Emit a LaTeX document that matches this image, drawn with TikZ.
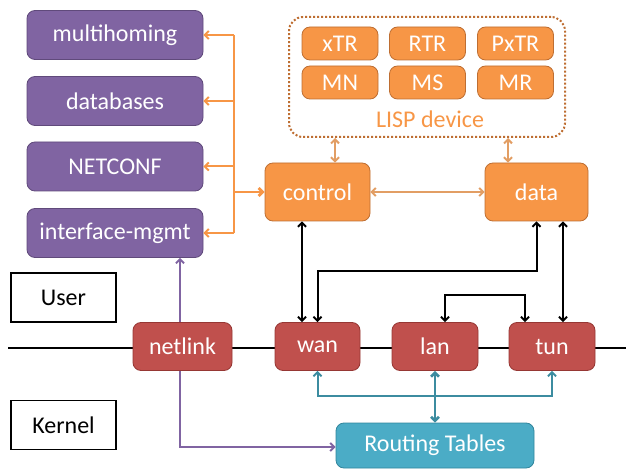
\documentclass[tikz,border=0pt]{standalone}
\usepackage{fontspec}
\setmainfont{Carlito}
\usetikzlibrary{arrows.meta,backgrounds}
\definecolor{cpurple}{RGB}{128,100,162}
\definecolor{cpurpleD}{RGB}{96,74,123}
\definecolor{corange}{RGB}{247,150,70}
\definecolor{corangeD}{RGB}{190,110,50}
\definecolor{clisp}{RGB}{226,158,100}
\definecolor{cred}{RGB}{192,80,77}
\definecolor{credD}{RGB}{150,55,52}
\definecolor{cteal}{RGB}{75,172,198}
\definecolor{ctealD}{RGB}{49,133,156}
\definecolor{ctealL}{RGB}{60,140,160}
\tikzset{
  box/.style={rounded corners=8pt, text=white, font=\fontsize{24}{26}\selectfont, inner sep=0pt, line width=0.8pt},
  pbox/.style={box, fill=cpurple, draw=cpurpleD, minimum width=176pt, minimum height=49pt},
  obox/.style={box, fill=corange, draw=corangeD},
  ibox/.style={box, fill=corange, draw=corangeD, minimum width=76pt, minimum height=33pt},
  rbox/.style={box, fill=cred, draw=credD, minimum height=48pt},
  tbox/.style={box, fill=cteal, draw=ctealD},
  lbox/.style={draw=black, line width=1.2pt, minimum width=105pt, minimum height=49pt, font=\fontsize{24}{26}\selectfont, inner sep=0pt},
  conn/.style={line width=2pt, arrows={Straight Barb[length=4pt,width=8pt]-Straight Barb[length=4pt,width=8pt]}},
  oline/.style={line width=2pt, draw=corange},
}
\begin{document}
\begin{tikzpicture}[x=1pt,y=-1pt]
\useasboundingbox (0,0) rectangle (626,470);
% purple boxes
\node[pbox] (mh) at (115,35) {multihoming};
\node[pbox] (db) at (115,101) {databases};
\node[pbox] (nc) at (115,166.5) {NETCONF};
\node[pbox] (im) at (115,233) {interface-mgmt};
% LISP device
\node[draw=corangeD, dotted, line width=2pt, rounded corners=14pt, minimum width=276pt, minimum height=120pt] (lisp) at (427,77) {};
\node[ibox] (xtr) at (340,43.5) {xTR};
\node[ibox] (rtr) at (427.5,43.5) {RTR};
\node[ibox] (pxtr) at (515.5,43.5) {PxTR};
\node[ibox] (mn) at (340,82.5) {MN};
\node[ibox] (ms) at (427.5,82.5) {MS};
\node[ibox] (mr) at (515.5,82.5) {MR};
\node[text=corange, font=\fontsize{24}{26}\selectfont, inner sep=0pt] (lisplbl) at (430,119) {LISP device};
% control / data
\node[obox, minimum width=105pt, minimum height=58pt] (ctrl) at (317.5,192) {control};
\node[obox, minimum width=103pt, minimum height=58pt] (data) at (536.5,192) {data};
% kernel boxes
\node[rbox, minimum width=99pt] (nl) at (182.5,346.5) {netlink};
\node[rbox, minimum width=85pt] (wan) at (317.5,346.5) {wan};
\node[rbox, minimum width=86pt] (lan) at (435,346.5) {lan};
\node[rbox, minimum width=86pt] (tun) at (552,346.5) {tun};
\node[tbox, minimum width=198pt, minimum height=45pt] (rt) at (435,445.5) {Routing Tables};
% labels
\node[lbox] (user) at (63.5,297.5) {User};
\node[lbox] (kern) at (63.5,425) {Kernel};
% coordinates
\coordinate (ls) at (8,348);
\coordinate (le) at (626,348);
\coordinate (bt) at (234,35);
\coordinate (b2) at (234,101);
\coordinate (b3) at (234,166.5);
\coordinate (bb) at (234,233);
\coordinate (bc) at (234,192);
\coordinate (j1) at (0,271);
\coordinate (j2) at (0,295);
\coordinate (j3) at (0,396);
\coordinate (pv) at (180,0);
\coordinate (pr) at (0,447);
\begin{pgfonlayer}{background}
\draw[line width=2.6pt] (ls) -- (le);
\draw[conn, draw=cpurple] (pv |- im.south) -- (pv |- pr) -- (rt.west |- pr);
\end{pgfonlayer}
% orange bus
\draw[oline] (bt) -- (bb);
\draw[oline, -{Straight Barb[length=4pt,width=8pt]}] (bt) -- (mh);
\draw[oline, -{Straight Barb[length=4pt,width=8pt]}] (b2) -- (db);
\draw[oline, -{Straight Barb[length=4pt,width=8pt]}] (b3) -- (nc);
\draw[oline, -{Straight Barb[length=4pt,width=8pt]}] (bb) -- (im);
\draw[oline, line width=2.8pt, -{Straight Barb[length=4pt,width=8pt]}] (bc) -- (ctrl);
% LISP links
\draw[conn, draw=clisp] ([xshift=17.5pt]ctrl.north) -- ([xshift=17.5pt]ctrl.north |- lisp.south);
\draw[conn, draw=clisp] ([xshift=-28.5pt]data.north) -- ([xshift=-28.5pt]data.north |- lisp.south);
\draw[conn, draw=clisp] (ctrl) -- (data);
% black links
\draw[conn] ([xshift=-15.5pt]ctrl.south) -- ([xshift=-15.5pt]wan.north);
\draw[conn] (data.south) -- (data.south |- j1) -- (wan.north |- j1) -- (wan.north);
\draw[conn] ([xshift=26.5pt]data.south) -- ([xshift=11pt]tun.north);
\draw[conn] ([xshift=10pt]lan.north) -- ([xshift=10pt]lan.north |- j2) -- ([xshift=-27pt]tun.north |- j2) -- ([xshift=-27pt]tun.north);
% teal links
\draw[conn, draw=ctealL] (wan.south) -- (wan.south |- j3) -- (tun.south |- j3) -- (tun.south);
\draw[conn, draw=ctealL, line width=2.6pt] (lan.south) -- (rt.north);
\end{tikzpicture}
\end{document}
